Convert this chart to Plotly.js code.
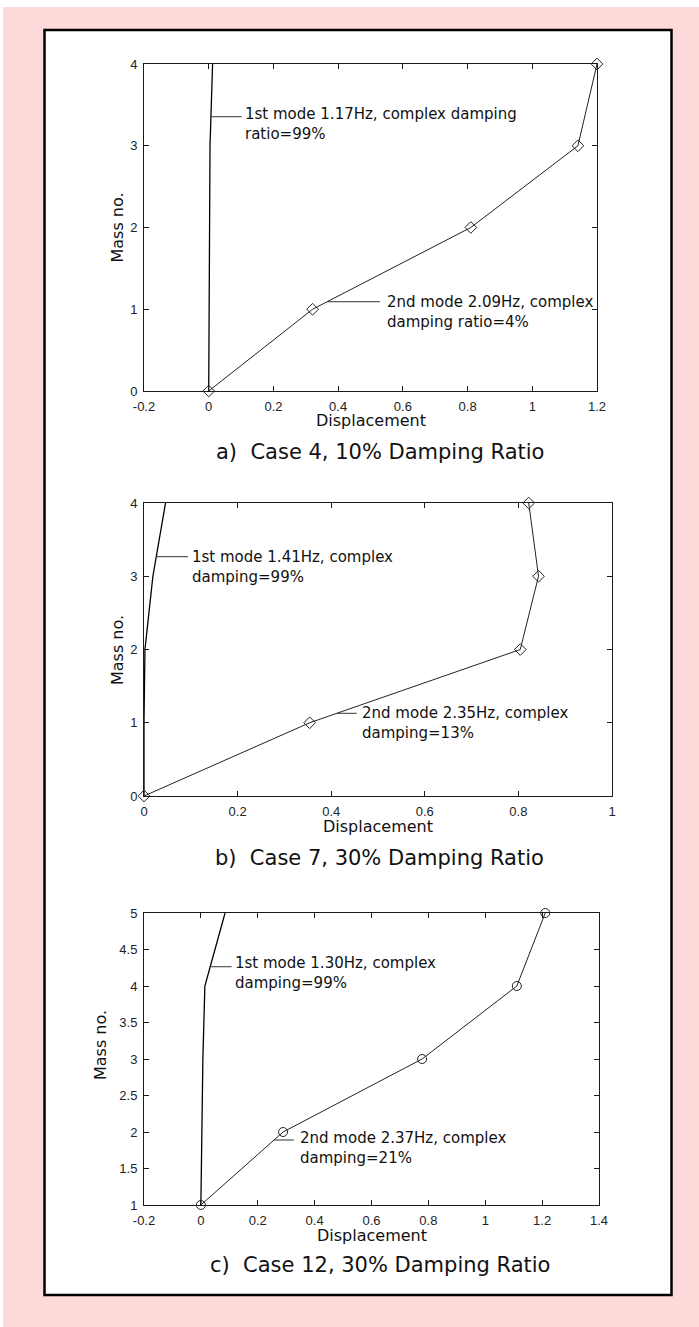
<!DOCTYPE html>
<html>
<head>
<meta charset="utf-8">
<script src="https://cdn.plot.ly/plotly-3.0.1.min.js"></script>
<style>
html,body{margin:0;padding:0;background:#fff;}
#chart{width:699px;height:1327px;}
</style>
</head>
<body>
<div id="chart"></div>
<script>
// ---------- data ----------
// a) Case 4, 10% Damping Ratio
const massA = [0, 1, 2, 3, 4];
const mode1A = [0, 0.001, 0.001, 0.004, 0.012];
const mode2A = [0, 0.321, 0.81, 1.141, 1.2];
// b) Case 7, 30% Damping Ratio
const massB = [0, 1, 2, 3, 4];
const mode1B = [0, 0, 0.002, 0.019, 0.046];
const mode2B = [0, 0.354, 0.804, 0.843, 0.822];
// c) Case 12, 30% Damping Ratio
const massC = [1, 2, 3, 4, 5];
const mode1C = [0, 0.003, 0.007, 0.014, 0.085];
const mode2C = [0, 0.289, 0.778, 1.111, 1.211];

// ---------- tick labels ----------
const xTickValsA = [-0.2, 0, 0.2, 0.4, 0.6, 0.8, 1, 1.2];
const xTickTextA = ['-0.2', '0', '0.2', '0.4', '0.6', '0.8', '1', '1.2'];
const yTickValsA = [0, 1, 2, 3, 4];
const yTickTextA = ['0', '1', '2', '3', '4'];
const xTickValsB = [0, 0.2, 0.4, 0.6, 0.8, 1];
const xTickTextB = ['0', '0.2', '0.4', '0.6', '0.8', '1'];
const yTickValsB = [0, 1, 2, 3, 4];
const yTickTextB = ['0', '1', '2', '3', '4'];
const xTickValsC = [-0.2, 0, 0.2, 0.4, 0.6, 0.8, 1, 1.2, 1.4];
const xTickTextC = ['-0.2', '0', '0.2', '0.4', '0.6', '0.8', '1', '1.2', '1.4'];
const yTickValsC = [1, 1.5, 2, 2.5, 3, 3.5, 4, 4.5, 5];
const yTickTextC = ['1', '1.5', '2', '2.5', '3', '3.5', '4', '4.5', '5'];

const captions = ['a)  Case 4, 10% Damping Ratio', 'b)  Case 7, 30% Damping Ratio', 'c)  Case 12, 30% Damping Ratio'];
const xTitle = 'Displacement';
const yTitle = 'Mass no.';

// mode label texts and their placement (data units of each panel)
const modeLabels = [
  {p: '', text: '1st mode 1.17Hz, complex damping<br>ratio=99%', lead: [[0.006, 3.355], [0.102, 3.355]], at: [0.106, 3.272]},
  {p: '', text: '2nd mode 2.09Hz, complex<br>damping ratio=4%', lead: [[0.366, 1.092], [0.529, 1.092]], at: [0.545, 0.966]},
  {p: '2', text: '1st mode 1.41Hz, complex<br>damping=99%', lead: [[0.026, 3.267], [0.094, 3.267]], at: [0.098, 3.133]},
  {p: '2', text: '2nd mode 2.35Hz, complex<br>damping=13%', lead: [[0.412, 1.129], [0.4545, 1.129]], at: [0.4615, 0.99]},
  {p: '3', text: '1st mode 1.30Hz, complex<br>damping=99%', lead: [[0.031, 4.264], [0.108, 4.264]], at: [0.113, 4.178]},
  {p: '3', text: '2nd mode 2.37Hz, complex<br>damping=21%', lead: [[0.257, 1.89], [0.327, 1.89]], at: [0.341, 1.78]}
];

// ---------- layout helpers ----------
const W = 699, H = 1327;
const px = v => v / W;
const py = v => 1 - v / H;
const TXT = 'DejaVu Sans, Verdana, sans-serif';
const TICKF = 'Liberation Sans, Arial, sans-serif';
const INK = '#1a1a1a';

function axis(domain, range, vals, text, anchor) {
  return {
    domain: domain, range: range, anchor: anchor,
    tickmode: 'array', tickvals: vals, ticktext: text,
    ticks: 'inside', ticklen: 5, tickwidth: 1, tickcolor: INK,
    mirror: 'ticks', showline: true, linecolor: INK, linewidth: 1,
    showgrid: false, zeroline: false, fixedrange: true,
    ticklabelstandoff: 3,
    tickfont: {family: TICKF, size: 13, color: '#222'}
  };
}

function mode1(x, y, xa, ya) {
  return {x: x, y: y, xaxis: xa, yaxis: ya, type: 'scatter', mode: 'lines',
    line: {color: '#000', width: 1.3}, hoverinfo: 'skip', showlegend: false};
}
function mode2(x, y, xa, ya, sym) {
  return {x: x, y: y, xaxis: xa, yaxis: ya, type: 'scatter', mode: 'lines+markers',
    cliponaxis: false,
    line: {color: '#222', width: 1},
    marker: {symbol: sym, size: 9, color: '#222', line: {width: 1, color: '#222'}},
    hoverinfo: 'skip', showlegend: false};
}

const data = [
  mode1(mode1A, massA, 'x', 'y'),
  mode2(mode2A, massA, 'x', 'y', 'diamond-open'),
  mode1(mode1B, massB, 'x2', 'y2'),
  mode2(mode2B, massB, 'x2', 'y2', 'diamond-open'),
  mode1(mode1C, massC, 'x3', 'y3'),
  mode2(mode2C, massC, 'x3', 'y3', 'circle-open')
];

// panel geometry in pixels
const panels = [
  {l: 144, r: 597, t: 64, b: 391, yt: 117, cap: 452},
  {l: 144, r: 612, t: 503, b: 796, yt: 117, cap: 858},
  {l: 144, r: 599, t: 913, b: 1205, yt: 100, cap: 1265}
];

const layout = {
  width: W, height: H,
  margin: {l: 0, r: 0, t: 0, b: 0},
  paper_bgcolor: '#ffffff', plot_bgcolor: 'rgba(0,0,0,0)',
  showlegend: false,
  xaxis: axis([px(panels[0].l), px(panels[0].r)], [-0.2, 1.2], xTickValsA, xTickTextA, 'y'),
  yaxis: axis([py(panels[0].b), py(panels[0].t)], [0, 4], yTickValsA, yTickTextA, 'x'),
  xaxis2: axis([px(panels[1].l), px(panels[1].r)], [0, 1], xTickValsB, xTickTextB, 'y2'),
  yaxis2: axis([py(panels[1].b), py(panels[1].t)], [0, 4], yTickValsB, yTickTextB, 'x2'),
  xaxis3: axis([px(panels[2].l), px(panels[2].r)], [-0.2, 1.4], xTickValsC, xTickTextC, 'y3'),
  yaxis3: axis([py(panels[2].b), py(panels[2].t)], [1, 5], yTickValsC, yTickTextC, 'x3'),
  shapes: [
    {type: 'rect', xref: 'paper', yref: 'paper', x0: px(3), x1: 1, y0: 0, y1: py(7),
      fillcolor: '#fdd9d9', line: {width: 0}, layer: 'below'},
    {type: 'rect', xref: 'paper', yref: 'paper', x0: px(44.5), x1: px(671.5), y0: py(1295), y1: py(30),
      fillcolor: '#ffffff', line: {width: 2.5, color: '#000'}, layer: 'below'}
  ],
  annotations: []
};

// axis titles and captions
const midY = [227.5, 650, 1045];
panels.forEach((p, i) => {
  layout.annotations.push({xref: 'paper', yref: 'paper', x: px((p.l + p.r) / 2), y: py(p.b + 30),
    xanchor: 'center', yanchor: 'middle', showarrow: false, text: xTitle,
    font: {family: TXT, size: 16, color: '#111'}});
  layout.annotations.push({xref: 'paper', yref: 'paper', x: px(p.yt), y: py(midY[i]),
    xanchor: 'center', yanchor: 'middle', showarrow: false, text: yTitle, textangle: -90,
    font: {family: TXT, size: 16, color: '#111'}});
  layout.annotations.push({xref: 'paper', yref: 'paper', x: px(380), y: py(p.cap),
    xanchor: 'center', yanchor: 'middle', showarrow: false, text: captions[i],
    font: {family: TXT, size: 21, color: '#111'}});
});

// mode labels with leader lines
modeLabels.forEach(m => {
  layout.shapes.push({type: 'line', xref: 'x' + m.p, yref: 'y' + m.p,
    x0: m.lead[0][0], y0: m.lead[0][1], x1: m.lead[1][0], y1: m.lead[1][1],
    line: {color: '#333', width: 1}});
  layout.annotations.push({xref: 'x' + m.p, yref: 'y' + m.p, x: m.at[0], y: m.at[1],
    xanchor: 'left', yanchor: 'middle', align: 'left', showarrow: false, text: m.text,
    font: {family: TXT, size: 15, color: '#111'}});
});

Plotly.newPlot('chart', data, layout, {staticPlot: true, displayModeBar: false});
</script>
</body>
</html>
